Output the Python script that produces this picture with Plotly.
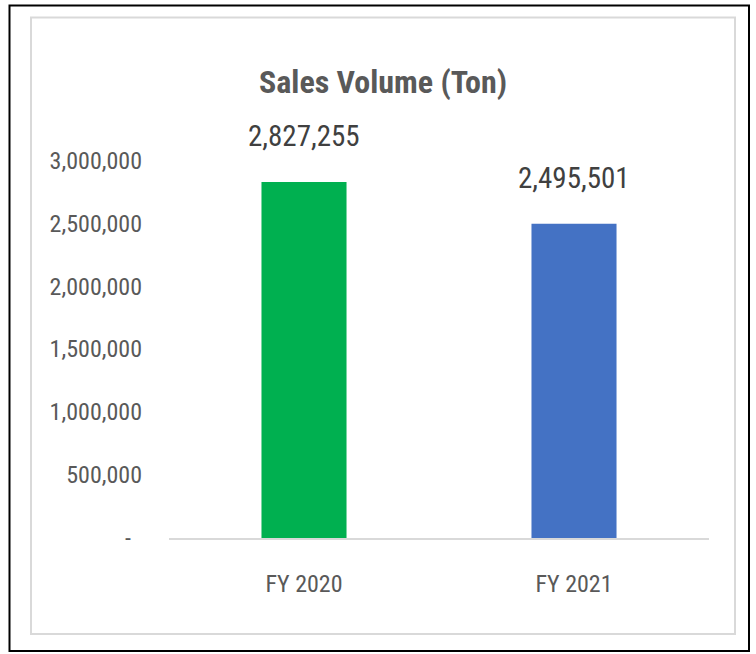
import plotly.graph_objects as go

categories = ["FY 2020", "FY 2021"]
sales_volume = [2827255, 2495501]
bar_colors = ["#00B050", "#4472C4"]
value_labels = ["2,827,255", "2,495,501"]
ytick_values = [0, 500000, 1000000, 1500000, 2000000, 2500000, 3000000]
ytick_labels = ["-\u00a0\u00a0", "500,000", "1,000,000", "1,500,000", "2,000,000", "2,500,000", "3,000,000"]
title_text = "Sales Volume (Ton)"

FONT = "Roboto Condensed, Open Sans Condensed, DejaVu Sans Condensed, sans-serif"
W, H = 756, 654
L, R, T, B = 169, 47, 135, 116
PW, PH = W - L - R, H - T - B


def px_x(px):
    return (px - L) / PW


def px_y(py):
    return (H - B - py) / PH


fig = go.Figure(
    go.Bar(
        x=categories,
        y=sales_volume,
        marker=dict(color=bar_colors, line=dict(width=0)),
        width=0.315,
        hoverinfo="x+y",
    )
)

for cat, val, lab in zip(categories, sales_volume, value_labels):
    fig.add_annotation(
        x=cat, y=val, text=lab, showarrow=False, yanchor="bottom",
        yshift=27, font=dict(family=FONT, size=29, color="#404040"),
    )

shapes = [
    dict(type="rect", xref="paper", yref="paper",
         x0=px_x(9.5), x1=px_x(749), y0=px_y(651), y1=px_y(5.5),
         line=dict(color="#000000", width=2), layer="below"),
    dict(type="rect", xref="paper", yref="paper",
         x0=px_x(31), x1=px_x(735), y0=px_y(634), y1=px_y(17.5),
         line=dict(color="#D9D9D9", width=2), layer="below"),
]

fig.update_layout(
    width=W, height=H,
    margin=dict(l=L, r=R, t=T, b=B, autoexpand=False),
    paper_bgcolor="white", plot_bgcolor="white",
    showlegend=False,
    shapes=shapes,
    title=dict(text="<b>" + title_text + "</b>", xref="container", yref="container",
               x=383 / W, y=1 - 82 / H, xanchor="center", yanchor="middle",
               font=dict(family=FONT, size=32, color="#595959")),
    xaxis=dict(showline=True, linecolor="#D9D9D9", linewidth=2, showgrid=False,
               ticks="", tickfont=dict(family=FONT, size=24, color="#595959"),
               ticklabelstandoff=23, zeroline=False),
    yaxis=dict(range=[0, 3200000], showgrid=False, zeroline=False, showline=False,
               tickvals=ytick_values, ticktext=ytick_labels, ticks="",
               tickfont=dict(family=FONT, size=24, color="#595959"),
               ticklabelstandoff=26),
)

fig.write_html("out.html", config=dict(displayModeBar=False),
               post_script="document.body.style.margin='0';")
